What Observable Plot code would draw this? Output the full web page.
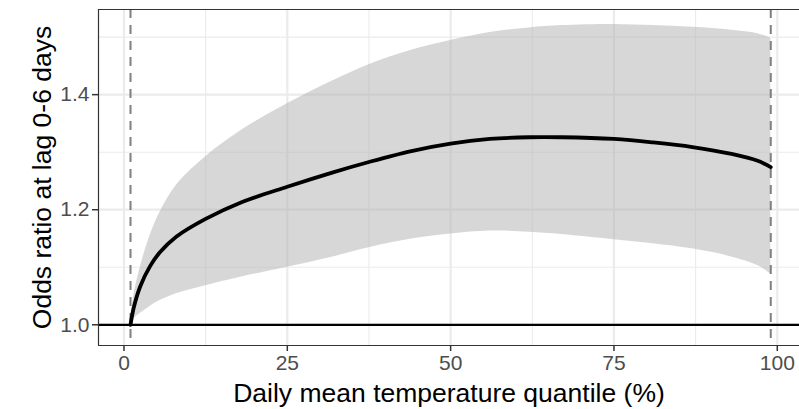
<!DOCTYPE html>
<html><head><meta charset="utf-8">
<script src="https://cdn.jsdelivr.net/npm/d3@7"></script>
<script src="https://cdn.jsdelivr.net/npm/@observablehq/plot@0.6"></script>
<style>html,body{margin:0;padding:0;background:#fff;overflow:hidden} svg{display:block}</style>
</head><body><div id="chart"></div>
<script>
// Data
const quantile  = [1,    1.5,   2.5,   4,     5.5,   8,     12.5,  18,    25,    32,    37.5,  44,    50,    56,    62,    67,    75,    81,    87,    93,    97,    99];
const oddsRatio = [1.0,  1.030, 1.067, 1.102, 1.126, 1.153, 1.184, 1.213, 1.240, 1.265, 1.283, 1.302, 1.315, 1.323, 1.326, 1.326, 1.323, 1.317, 1.309, 1.297, 1.285, 1.274];
const lowerCI   = [1.0,  1.010, 1.020, 1.032, 1.042, 1.054, 1.068, 1.083, 1.100, 1.118, 1.134, 1.149, 1.158, 1.163, 1.161, 1.157, 1.148, 1.141, 1.132, 1.118, 1.103, 1.088];
const upperCI   = [1.0,  1.050, 1.100, 1.155, 1.195, 1.242, 1.292, 1.338, 1.384, 1.424, 1.452, 1.477, 1.494, 1.508, 1.516, 1.520, 1.522, 1.520, 1.517, 1.512, 1.506, 1.498];

const xTicks = [0, 25, 50, 75, 100];
const xMinor = [12.5, 37.5, 62.5, 87.5];
const yTicks = [1.0, 1.2, 1.4];
const yMinor = [1.1, 1.3, 1.5];
const refQuantiles = [1, 99];
const refOdds = [1];
const xDomain = [-3.9, 103.4];
const yDomain = [0.964, 1.548];
const xTitle = "Daily mean temperature quantile (%)";
const yTitle = "Odds ratio at lag 0-6 days";

const data = quantile.map((q, i) => ({q, or: oddsRatio[i], lo: lowerCI[i], hi: upperCI[i]}));

const plot = Plot.plot({
  width: 799, height: 409,
  marginLeft: 98, marginRight: 0, marginTop: 9, marginBottom: 64,
  style: {fontFamily: "'Liberation Sans', Arial, sans-serif", background: "#fff"},
  x: {domain: xDomain},
  y: {domain: yDomain},
  marks: [
    Plot.ruleX(xMinor, {stroke: "#EBEBEB", strokeWidth: 1.1}),
    Plot.ruleY(yMinor, {stroke: "#EBEBEB", strokeWidth: 1.1}),
    Plot.ruleX(xTicks, {stroke: "#EBEBEB", strokeWidth: 2.2}),
    Plot.ruleY(yTicks, {stroke: "#EBEBEB", strokeWidth: 2.2}),
    Plot.areaY(data, {x: "q", y1: "lo", y2: "hi", fill: "#b0b0b0", fillOpacity: 0.5, curve: "catmull-rom"}),
    Plot.ruleX(refQuantiles, {stroke: "#7f7f7f", strokeWidth: 2, strokeDasharray: "9,7"}),
    Plot.ruleY(refOdds, {stroke: "#000", strokeWidth: 2.2}),
    Plot.line(data, {x: "q", y: "or", stroke: "#000", strokeWidth: 3.8, curve: "catmull-rom"}),
    Plot.ruleX([xDomain[0]], {stroke: "#333", strokeWidth: 1.2}),
    Plot.ruleY(yDomain, {stroke: "#333", strokeWidth: 1.2}),
    Plot.axisX(xTicks, {anchor: "bottom", tickSize: 6, tickPadding: 4, fontSize: 21, fill: "#4D4D4D", stroke: "#333", strokeWidth: 1.5, label: null}),
    Plot.axisY(yTicks, {anchor: "left", tickSize: 6, tickPadding: 3, fontSize: 21, fill: "#4D4D4D", stroke: "#333", strokeWidth: 1.5, label: null, tickFormat: d => d.toFixed(1)}),
    Plot.text([xTitle], {text: d => d, frameAnchor: "bottom", textAnchor: "middle", lineAnchor: "top", dy: 38, fontSize: 26.5, fill: "#000"}),
    Plot.text([yTitle], {text: d => d, frameAnchor: "left", textAnchor: "middle", rotate: -90, lineAnchor: "bottom", dx: -48, fontSize: 26.5, fill: "#000"})
  ]
});
document.getElementById("chart").appendChild(plot);
</script>
</body></html>
